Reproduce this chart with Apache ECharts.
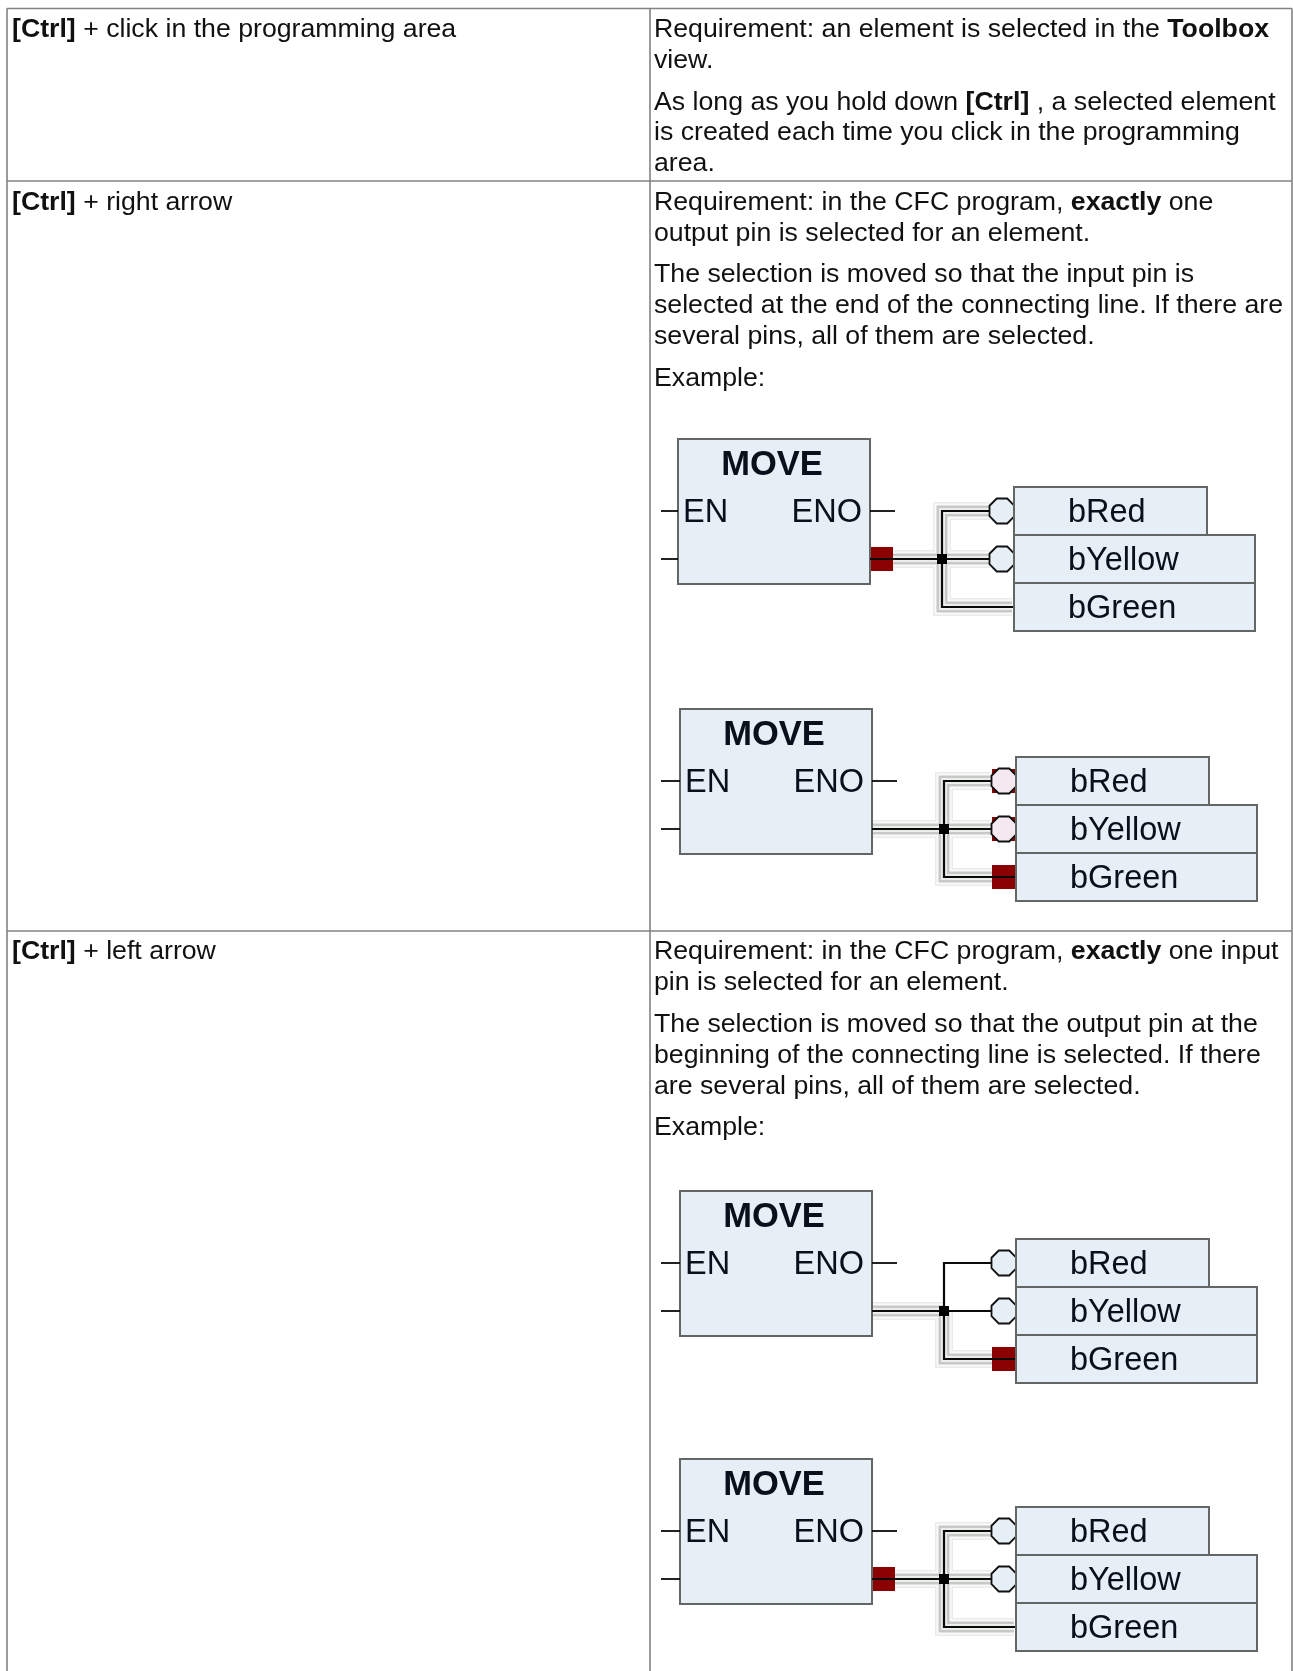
<!DOCTYPE html>
<html>
<head>
<meta charset="utf-8">
<style>html,body{margin:0;padding:0;background:#fff}#c{width:1293px;height:1671px}</style>
<script src="https://cdn.jsdelivr.net/npm/echarts@6/dist/echarts.min.js"></script>
</head>
<body>
<div id="c"></div>
<script>
// ---- table content ----
const leftLabels = ['{b|[Ctrl]} + click in the programming area', '{b|[Ctrl]} + right arrow', '{b|[Ctrl]} + left arrow'];
const leftLabelRows = [30, 202.5, 952];
const rightLines = [
  'Requirement: an element is selected in the {b|Toolbox}',
  'view.',
  'As long as you hold down {b|[Ctrl]} , a selected element',
  'is created each time you click in the programming',
  'area.',
  'Requirement: in the CFC program, {b|exactly} one',
  'output pin is selected for an element.',
  'The selection is moved so that the input pin is',
  'selected at the end of the connecting line. If there are',
  'several pins, all of them are selected.',
  'Example:',
  'Requirement: in the CFC program, {b|exactly} one input',
  'pin is selected for an element.',
  'The selection is moved so that the output pin at the',
  'beginning of the connecting line is selected. If there',
  'are several pins, all of them are selected.',
  'Example:'
];
const rightLineRows = [30, 61, 102.5, 132.5, 163.5, 202.5, 233.5, 275, 306, 337, 378.5, 952, 983, 1025, 1056, 1087, 1128];
const columnRules = [7, 650, 1292];
const rowRules = [8.5, 181, 931];
const tableBottom = 1671;

// ---- CFC diagrams ----
const blockName = 'MOVE';
const inputPin = 'EN';
const outputPin = 'ENO';
const targets = ['bRed', 'bYellow', 'bGreen'];
const diagramLeft = [678, 680, 680, 680];
const diagramTop = [439, 709, 1191, 1459];
const outputSelected = [true, false, false, true];
const redSelected = [false, true, false, false];
const greenSelected = [false, true, true, false];
const upperHalo = [true, true, false, true];

const C = { wire: '#0a0a0a', rule: '#828282', box: '#626664', fill: '#e6eef6', red: '#8b0000', pink: '#f5e8ee', text: '#111111', dia: '#0a0f1c' };
const FF = '"Liberation Sans", Arial, sans-serif';
const STUB_START = 661;

function seg(api, pts, stroke, width) {
  return {
    type: 'polyline',
    shape: { points: pts.map(p => api.coord(p)) },
    style: { stroke, lineWidth: width, fill: null, lineJoin: 'miter', lineCap: 'butt' },
    silent: true
  };
}
function rect(api, x0, y0, x1, y1, fill, stroke, width) {
  const a = api.coord([x0, y0]), b = api.coord([x1, y1]);
  return {
    type: 'rect',
    shape: { x: a[0], y: a[1], width: b[0] - a[0], height: b[1] - a[1] },
    style: { fill, stroke: stroke || null, lineWidth: width || 0 },
    silent: true
  };
}
function label(api, x, y, text, size, weight, color, align) {
  const p = api.coord([x, y]);
  return {
    type: 'text', x: p[0], y: p[1], silent: true,
    style: { text, fontFamily: FF, fontSize: size, fontWeight: weight || 'normal', fill: color, align: align || 'left', verticalAlign: 'middle' }
  };
}
function octagon(api, x, y, r, fill) {
  const k = r * 0.42;
  const pts = [[x - r, y - k], [x - k, y - r], [x + k, y - r], [x + r, y - k], [x + r, y + k], [x + k, y + r], [x - k, y + r], [x - r, y + k]];
  return {
    type: 'polygon', silent: true,
    shape: { points: pts.map(q => api.coord(q)) },
    style: { fill, stroke: '#111', lineWidth: 1.8 }
  };
}

function renderDiagram(params, api) {
  const i = api.value(0);
  const L = diagramLeft[i], T = diagramTop[i];
  const r1 = T + 72, r2 = T + 120, r3 = T + 168;
  const outX = L + 192, jx = L + 264, pinL = L + 312, tgt = L + 336;
  const ch = [];

  // selection halo around wires
  const haloPaths = [[[outX, r2], [jx, r2]], [[jx, r2], [jx, r3], [tgt - 2, r3]]];
  if (upperHalo[i]) {
    haloPaths.push([[pinL, r1], [jx, r1], [jx, r2]]);
    haloPaths.push([[jx, r2], [pinL, r2]]);
  }
  const bands = [[18, '#ebebeb'], [15, '#fafafa'], [11, '#c6c9c6'], [6, '#eceeec']];
  bands.forEach(b => haloPaths.forEach(p => ch.push(seg(api, p, b[1], b[0]))));

  // selection squares
  if (outputSelected[i]) ch.push(rect(api, outX - 1, r2 - 12, outX + 23, r2 + 12, C.red));
  if (redSelected[i]) {
    ch.push(rect(api, pinL, r1 - 12, tgt, r1 + 12, C.red));
    ch.push(rect(api, pinL, r2 - 12, tgt, r2 + 12, C.red));
  }
  if (greenSelected[i]) ch.push(rect(api, pinL, r3 - 12, tgt, r3 + 12, C.red));

  // block
  ch.push(rect(api, L, T, L + 192, T + 145, C.fill, C.box, 2));
  ch.push(label(api, L + 94, T + 26, blockName, 34.5, 'bold', C.dia, 'center'));
  ch.push(label(api, L + 5, r1 + 2, inputPin, 32.5, 'normal', C.dia));
  ch.push(label(api, L + 184, r1 + 2, outputPin, 32.5, 'normal', C.dia, 'right'));
  // stubs
  ch.push(seg(api, [[STUB_START, r1], [L, r1]], C.wire, 1.8));
  ch.push(seg(api, [[STUB_START, r2], [L, r2]], C.wire, 1.8));
  ch.push(seg(api, [[outX, r1], [outX + 25, r1]], C.wire, 1.8));

  // wires
  ch.push(seg(api, [[outX, r2], [pinL, r2]], C.wire, 2.2));
  ch.push(seg(api, [[pinL, r1], [jx, r1], [jx, r3], [tgt, r3]], C.wire, 2.2));
  ch.push(rect(api, jx - 5, r2 - 5, jx + 5, r2 + 5, '#000'));

  // pins
  const pinFill = redSelected[i] ? C.pink : C.fill;
  ch.push(octagon(api, pinL + 12, r1, 12.5, pinFill));
  ch.push(octagon(api, pinL + 12, r2, 12.5, pinFill));

  // target boxes
  const widths = [193, 241, 241];
  [0, 1, 2].forEach(k => {
    const top = T + 48 + k * 48;
    ch.push(rect(api, tgt, top, tgt + widths[k], top + 48, C.fill, C.box, 2));
    ch.push(label(api, tgt + 54, top + 26.5, targets[k], 32.5, 'normal', C.dia));
  });
  return { type: 'group', children: ch };
}

const chart = echarts.init(document.getElementById('c'), null, { renderer: 'canvas' });
chart.setOption({
  animation: false,
  backgroundColor: '#fff',
  tooltip: { show: false },
  grid: { left: 0, right: 0, top: 0, bottom: 0 },
  xAxis: { type: 'value', min: 0, max: 1293, show: false },
  yAxis: { type: 'value', min: 0, max: 1671, inverse: true, show: false },
  series: [
    {
      type: 'custom', name: 'rules', coordinateSystem: 'cartesian2d', silent: true,
      data: columnRules.map(v => [0, v]).concat(rowRules.map(v => [1, v])),
      renderItem(params, api) {
        const kind = api.value(0), v = api.value(1);
        const pts = kind === 0 ? [[v, rowRules[0]], [v, tableBottom]] : [[columnRules[0], v], [columnRules[2], v]];
        return seg(api, pts, C.rule, 1.6);
      }
    },
    {
      type: 'custom', name: 'text', coordinateSystem: 'cartesian2d', silent: true,
      data: leftLabelRows.map((y, i) => [i, y, 0]).concat(rightLineRows.map((y, i) => [i, y, 1])),
      renderItem(params, api) {
        const i = api.value(0), y = api.value(1), side = api.value(2);
        const p = api.coord([side ? 654 : 12, y]);
        return {
          type: 'text', x: p[0], y: p[1], silent: true,
          style: {
            text: side ? rightLines[i] : leftLabels[i],
            fontFamily: FF, fontSize: 26.7, fill: C.text, verticalAlign: 'middle',
            rich: { b: { fontFamily: FF, fontSize: 26.7, fontWeight: 'bold', fill: C.text } }
          }
        };
      }
    },
    {
      type: 'custom', name: 'diagrams', coordinateSystem: 'cartesian2d', silent: true,
      data: diagramTop.map((t, i) => [i, t]),
      renderItem: renderDiagram
    }
  ]
});
</script>
</body>
</html>
